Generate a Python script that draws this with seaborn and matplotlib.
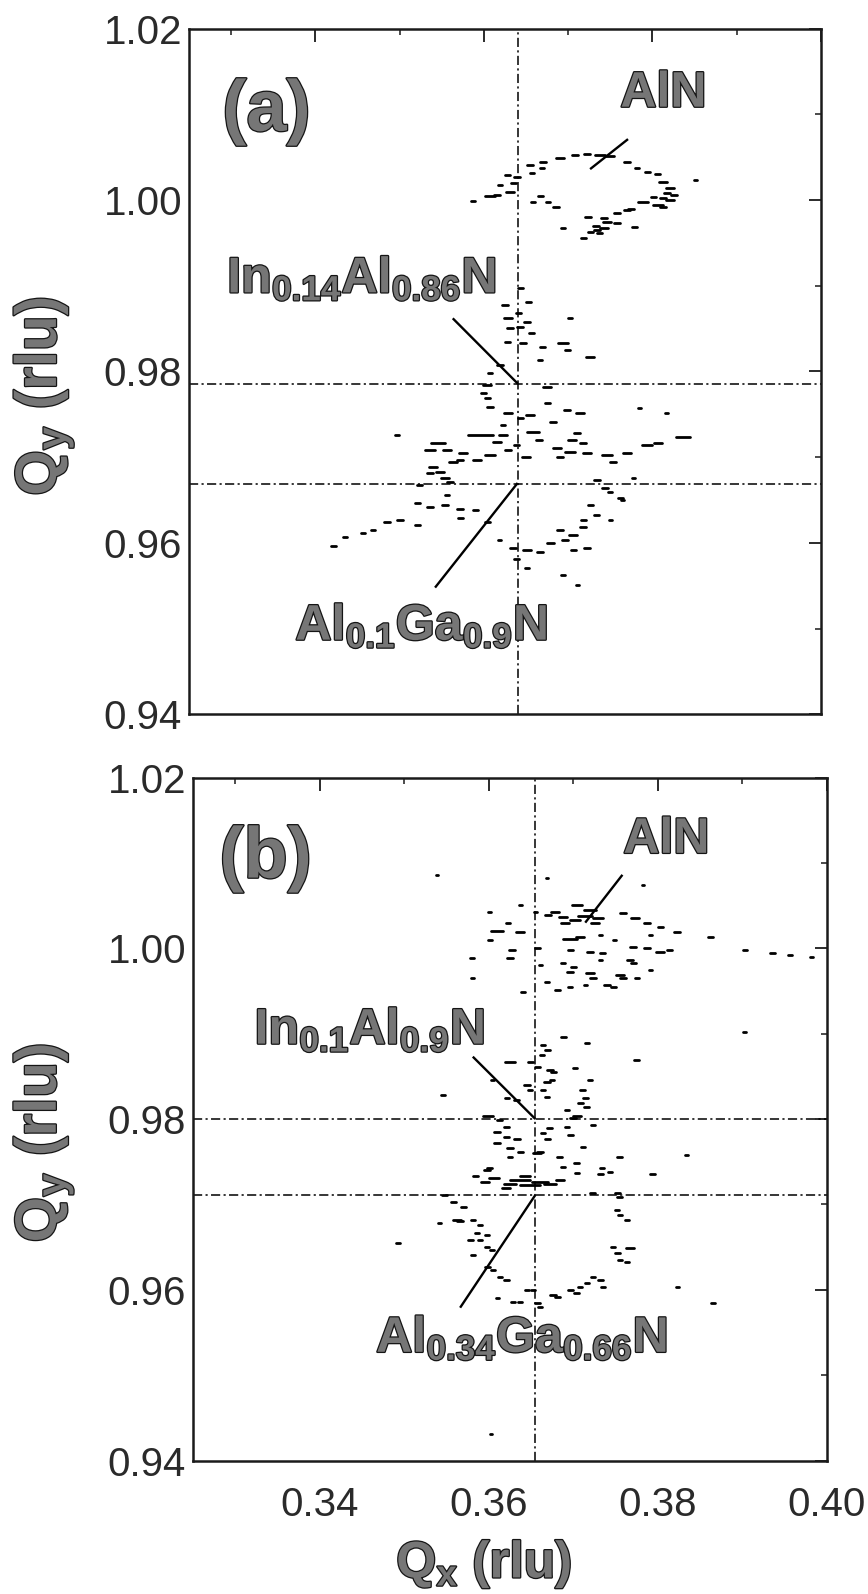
import numpy as np
import pandas as pd
import matplotlib
matplotlib.use("Agg")
import matplotlib.pyplot as plt
import seaborn as sns
from matplotlib import patheffects as pe
from matplotlib.ticker import MultipleLocator, FormatStrFormatter

# ---------------- data ----------------
QX_RANGE = [0.325, 0.40]
QY_RANGE = [0.94, 1.02]
x_ticks = [0.34, 0.36, 0.38, 0.40]
y_ticks = [0.94, 0.96, 0.98, 1.00, 1.02]

# dash length unit (rlu) used for the *_len lists
DASH_UNIT = 1.19e-4

# ---- panel (a): AlN peak ----
a_aln_qx = [0.3655,0.3670,0.3690,0.3708,0.3722,0.3738,0.3750,0.3770,0.3782,0.3794,0.3806,0.3813,0.3821,0.3817,0.3825,0.3813,0.3821,0.3789,0.3806,0.3813,0.3770,0.3758,0.3742,0.3723,0.3746,0.3758,0.3742,0.3734,0.3726,0.3718,0.3779,0.3694,0.3685,0.3667,0.3658,0.3676,0.3607,0.3616,0.3631,0.3635,0.3639,0.3628,0.3619,0.3657,0.3669,0.3851,0.3587,0.3775,0.3801,0.3737,0.3733]
a_aln_qy = [1.0041,1.0044,1.0049,1.0053,1.0054,1.0053,1.0051,1.0044,1.0037,1.0033,1.0030,1.0021,1.0014,1.0008,1.0006,1.0002,1.0000,0.9998,0.9994,0.9992,0.9988,0.9985,0.9979,0.9980,0.9974,0.9973,0.9967,0.9965,0.9963,0.9956,0.9969,0.9967,0.9992,1.0005,0.9998,0.9998,1.0005,1.0006,1.0009,1.0020,1.0027,1.0029,1.0017,1.0031,1.0037,1.0023,0.9999,0.9989,1.0004,0.9961,0.9970]
a_aln_len = [6,6,8,6,6,10,8,6,4,5,5,8,8,6,6,6,8,10,10,6,6,6,6,6,8,6,8,6,5,5,5,4,6,5,4,4,10,6,8,5,6,5,4,4,4,3,4,6,5,5,6]

# ---- panel (a): In0.14Al0.86N region ----
a_mid_qx = [0.3643,0.3653,0.3625,0.3641,0.3628,0.3651,0.3702,0.3631,0.3643,0.3657,0.3628,0.3646,0.3670,0.3694,0.3699,0.3667,0.3726,0.3619,0.3607,0.3604,0.3675,0.3599,0.3604,0.3607,0.3675,0.3699,0.3714,0.3628,0.3655,0.3643,0.3682,0.3623,0.3785,0.3817,0.3596,0.3623,0.3658,0.3711,0.3705,0.3718,0.3836,0.3794,0.3806,0.3497,0.3615,0.3628,0.3650,0.3665]
a_mid_qy = [0.9897,0.9881,0.9878,0.9868,0.9862,0.9858,0.9862,0.9851,0.9852,0.9845,0.9834,0.9833,0.9829,0.9833,0.9825,0.9813,0.9817,0.9808,0.9798,0.9784,0.9782,0.9775,0.9769,0.9759,0.9763,0.9755,0.9752,0.9752,0.9749,0.9746,0.9741,0.9738,0.9758,0.9752,0.9726,0.9726,0.9729,0.9728,0.9720,0.9717,0.9724,0.9714,0.9717,0.9726,0.9718,0.9709,0.9700,0.9720]
a_mid_len = [5,5,5,5,8,6,4,6,6,5,5,6,5,10,5,4,8,6,4,8,8,5,5,6,5,6,8,8,8,5,6,4,3,3,25,8,12,6,8,6,14,10,8,4,8,6,8,6]

# ---- panel (a): Al0.1Ga0.9N region ----
a_low_qx = [0.3545,0.3536,0.3556,0.3575,0.3607,0.3639,0.3687,0.3702,0.3722,0.3746,0.3770,0.3563,0.3592,0.3572,0.3690,0.3753,0.3548,0.3536,0.3539,0.3554,0.3560,0.3524,0.3556,0.3521,0.3536,0.3554,0.3572,0.3590,0.3572,0.3485,0.3500,0.3521,0.3468,0.3457,0.3435,0.3421,0.3604,0.3734,0.3744,0.3762,0.3750,0.3726,0.3734,0.3718,0.3718,0.3690,0.3706,0.3696,0.3679,0.3722,0.3706,0.3635,0.3651,0.3667,0.3639,0.3651,0.3711,0.3694,0.3750,0.3765,0.3777,0.3619]
a_low_qy = [0.9717,0.9708,0.9708,0.9705,0.9703,0.9714,0.9711,0.9706,0.9705,0.9703,0.9705,0.9695,0.9697,0.9697,0.9700,0.9695,0.9683,0.9682,0.9689,0.9676,0.9671,0.9668,0.9656,0.9647,0.9642,0.9644,0.9640,0.9639,0.9629,0.9625,0.9627,0.9621,0.9615,0.9612,0.9607,0.9597,0.9625,0.9674,0.9664,0.9653,0.9660,0.9644,0.9633,0.9627,0.9619,0.9615,0.9609,0.9604,0.9600,0.9594,0.9592,0.9594,0.9592,0.9589,0.9581,0.9571,0.9551,0.9563,0.9627,0.9650,0.9676,0.9604]
a_low_len = [14,10,8,8,10,5,8,10,8,10,8,8,8,6,6,6,8,6,8,8,6,5,4,5,6,6,6,5,5,6,6,5,4,4,4,5,5,6,6,5,4,5,5,5,6,6,8,6,6,6,5,6,8,6,5,4,3,4,3,3,3,3]

# ---- panel (b): AlN peak ----
b_aln_qx = [0.3704,0.3720,0.3714,0.3729,0.3702,0.3726,0.3690,0.3678,0.3670,0.3688,0.3696,0.3708,0.3610,0.3637,0.3627,0.3625,0.3657,0.3759,0.3773,0.3787,0.3803,0.3823,0.3771,0.3787,0.3803,0.3814,0.3767,0.3771,0.3720,0.3723,0.3755,0.3759,0.3696,0.3700,0.3740,0.3747,0.3775,0.3681,0.3696,0.3669,0.3696,0.3720,0.3735,0.3688,0.3862,0.3580,0.3601,0.3623,0.3669,0.3601,0.3782,0.3581,0.3640,0.3539,0.3935,0.3956,0.3982,0.3903,0.3637,0.3655,0.3732,0.3749,0.3791,0.3661,0.3732,0.3714,0.3791]
b_aln_qy = [1.0051,1.0045,1.0038,1.0036,1.0033,1.0030,1.0030,1.0043,1.0039,1.0037,1.0011,1.0013,1.0020,1.0019,0.9998,0.9989,1.0000,1.0041,1.0036,1.0030,1.0025,1.0019,1.0002,1.0000,0.9996,0.9998,0.9986,0.9983,0.9971,0.9965,0.9969,0.9965,0.9972,0.9978,0.9957,0.9955,0.9965,0.9951,0.9955,0.9961,0.9998,0.9996,0.9995,0.9983,1.0013,0.9989,1.0010,1.0030,1.0082,1.0043,1.0074,0.9965,0.9949,1.0086,0.9995,0.9992,0.9990,0.9998,1.0051,1.0043,1.0016,1.0010,1.0016,0.9980,0.9986,0.9957,0.9975]
b_aln_len = [10,12,14,10,10,8,8,8,6,8,14,8,12,8,6,5,5,6,8,6,5,6,6,6,8,5,6,5,8,6,8,6,6,5,6,5,4,5,4,4,5,6,5,4,5,4,4,4,2,3,2,3,4,2,5,4,3,3,3,3,3,3,3,3,3,3,3]

# ---- panel (b): In0.1Al0.9N region ----
b_mid_qx = [0.3688,0.3716,0.3664,0.3669,0.3663,0.3625,0.3649,0.3657,0.3672,0.3676,0.3702,0.3775,0.3720,0.3669,0.3675,0.3645,0.3649,0.3604,0.3711,0.3714,0.3621,0.3633,0.3664,0.3669,0.3708,0.3716,0.3692,0.3700,0.3704,0.3599,0.3613,0.3621,0.3672,0.3692,0.3696,0.3723,0.3610,0.3621,0.3633,0.3664,0.3669,0.3610,0.3625,0.3637,0.3711,0.3657,0.3661,0.3625,0.3684,0.3704,0.3755,0.3734,0.3743,0.3598,0.3601,0.3794,0.3834,0.3546,0.3688,0.3704,0.3902]
b_mid_qy = [0.9896,0.9889,0.9887,0.9881,0.9875,0.9867,0.9867,0.9861,0.9857,0.9855,0.9860,0.9869,0.9846,0.9843,0.9846,0.9840,0.9834,0.9846,0.9834,0.9825,0.9825,0.9822,0.9834,0.9826,0.9819,0.9814,0.9811,0.9801,0.9803,0.9803,0.9799,0.9791,0.9790,0.9791,0.9781,0.9793,0.9785,0.9779,0.9776,0.9784,0.9776,0.9772,0.9766,0.9761,0.9767,0.9760,0.9761,0.9756,0.9756,0.9749,0.9756,0.9743,0.9738,0.9740,0.9743,0.9735,0.9758,0.9828,0.9744,0.9737,0.9902]
b_mid_len = [5,4,4,5,4,10,5,5,6,5,4,5,4,6,4,6,4,3,5,5,4,5,4,4,5,5,4,6,8,10,5,5,5,4,5,4,6,5,6,4,5,6,6,5,4,8,6,4,5,5,5,4,4,6,5,5,3,4,4,4,3]

# ---- panel (b): Al0.34Ga0.66N region ----
b_low_qx = [0.3637,0.3661,0.3649,0.3672,0.3625,0.3606,0.3595,0.3684,0.3643,0.3620,0.3584,0.3723,0.3752,0.3755,0.3732,0.3558,0.3570,0.3562,0.3566,0.3581,0.3589,0.3586,0.3598,0.3578,0.3589,0.3598,0.3604,0.3581,0.3752,0.3755,0.3763,0.3747,0.3752,0.3755,0.3767,0.3763,0.3598,0.3605,0.3613,0.3621,0.3645,0.3652,0.3676,0.3681,0.3696,0.3704,0.3732,0.3735,0.3723,0.3708,0.3716,0.3657,0.3661,0.3629,0.3637,0.3610,0.3823,0.3542,0.3865,0.3603,0.3493,0.3548]
b_low_qy = [0.9729,0.9726,0.9723,0.9724,0.9724,0.9731,0.9726,0.9729,0.9733,0.9719,0.9733,0.9713,0.9713,0.9709,0.9735,0.9703,0.9697,0.9682,0.9680,0.9682,0.9676,0.9667,0.9664,0.9658,0.9658,0.9650,0.9647,0.9641,0.9694,0.9688,0.9682,0.9650,0.9643,0.9635,0.9649,0.9632,0.9627,0.9623,0.9615,0.9612,0.9600,0.9600,0.9594,0.9592,0.9600,0.9596,0.9611,0.9603,0.9615,0.9603,0.9608,0.9585,0.9580,0.9586,0.9586,0.9590,0.9603,0.9678,0.9584,0.9431,0.9655,0.9711]
b_low_len = [20,16,20,12,12,10,8,8,10,8,5,5,5,5,5,5,4,8,6,4,4,4,4,5,4,4,4,4,4,4,4,4,5,4,8,4,5,4,4,5,4,4,6,5,5,5,5,4,4,4,4,5,4,4,4,3,3,3,4,2,4,5]

# reference (dash-dot) lines: layer peak positions
a_qx_line = [0.3640]
a_qy_lines = [0.9785, 0.9669]
b_qx_line = [0.3655]
b_qy_lines = [0.9800, 0.9711]

# labels and their leader lines
a_labels = ["AlN", r"$\mathbf{In_{0.14}Al_{0.86}N}$", r"$\mathbf{Al_{0.1}Ga_{0.9}N}$"]
a_label_qx = [0.3813, 0.3455, 0.3526]
a_label_qy = [1.0124, 0.9892, 0.9487]
a_leader_qx = [[0.3726, 0.3771], [0.3563, 0.3640], [0.3542, 0.3640]]
a_leader_qy = [[1.0036, 1.0071], [0.9862, 0.9786], [0.9548, 0.9670]]

b_labels = ["AlN", r"$\mathbf{In_{0.1}Al_{0.9}N}$", r"$\mathbf{Al_{0.34}Ga_{0.66}N}$"]
b_label_qx = [0.3810, 0.3459, 0.3639]
b_label_qy = [1.0127, 0.9888, 0.9527]
b_leader_qx = [[0.3758, 0.3714], [0.3581, 0.3655], [0.3566, 0.3655]]
b_leader_qy = [[1.0086, 1.0030], [0.9873, 0.9800], [0.9579, 0.9711]]

panel_tags = ["(a)", "(b)"]
tag_qx = [0.3342, 0.3336]
tag_qy = [1.0103, 1.0105]

# ---------------- style ----------------
sns.set_theme(style="white")
plt.rcParams["font.family"] = ["Liberation Sans", "DejaVu Sans"]
plt.rcParams["mathtext.fontset"] = "custom"
plt.rcParams["mathtext.rm"] = "Liberation Sans"
plt.rcParams["mathtext.bf"] = "Liberation Sans:bold"
plt.rcParams["mathtext.it"] = "Liberation Sans:italic"

GREY = "#767676"
OUTLINE = [pe.withStroke(linewidth=1.8, foreground="#151515")]
DASHDOT = (0, (6, 2.2, 1.4, 2.2))


def dash_frame(qx, qy, ln, tag):
    rows = []
    for i, (x, y, l) in enumerate(zip(qx, qy, ln)):
        h = 0.5 * l * DASH_UNIT
        rows.append((f"{tag}{i}", x - h, y))
        rows.append((f"{tag}{i}", x + h, y))
    return pd.DataFrame(rows, columns=["id", "Qx", "Qy"])


fig = plt.figure(figsize=(8.68, 15.94), dpi=100)
ax_a = fig.add_axes([0.21774, 0.55176, 0.72811, 0.43036])
ax_b = fig.add_axes([0.22235, 0.08375, 0.73041, 0.42848])

panels = [
    (ax_a, [(a_aln_qx, a_aln_qy, a_aln_len), (a_mid_qx, a_mid_qy, a_mid_len), (a_low_qx, a_low_qy, a_low_len)],
     a_qx_line, a_qy_lines, a_labels, a_label_qx, a_label_qy, a_leader_qx, a_leader_qy),
    (ax_b, [(b_aln_qx, b_aln_qy, b_aln_len), (b_mid_qx, b_mid_qy, b_mid_len), (b_low_qx, b_low_qy, b_low_len)],
     b_qx_line, b_qy_lines, b_labels, b_label_qx, b_label_qy, b_leader_qx, b_leader_qy),
]

for k, (ax, groups, vl, hl, labs, lqx, lqy, ldx, ldy) in enumerate(panels):
    frames = [dash_frame(qx, qy, ln, f"g{j}_") for j, (qx, qy, ln) in enumerate(groups)]
    df = pd.concat(frames, ignore_index=True)
    sns.lineplot(data=df, x="Qx", y="Qy", units="id", estimator=None, sort=False,
                 color="black", lw=2.0, legend=False, ax=ax)

    for v in vl:
        ax.axvline(v, color="black", lw=1.1, ls=DASHDOT, zorder=1)
    for h in hl:
        ax.axhline(h, color="black", lw=1.1, ls=DASHDOT, zorder=1)

    for xs, ys in zip(ldx, ldy):
        ax.plot(xs, ys, color="black", lw=1.7, solid_capstyle="butt")

    for j, (t, x, y) in enumerate(zip(labs, lqx, lqy)):
        va = "center" if j == 0 else "baseline"
        ax.text(x, y, t, ha="center", va=va, fontsize=36, fontweight="bold",
                color=GREY, path_effects=OUTLINE)

    ax.text(tag_qx[k], tag_qy[k], panel_tags[k], ha="center", va="center", fontsize=52,
            fontweight="bold", color=GREY, path_effects=OUTLINE)

    ax.set_xlim(*QX_RANGE)
    ax.set_ylim(*QY_RANGE)
    ax.set_xticks(x_ticks)
    ax.set_yticks(y_ticks)
    ax.xaxis.set_minor_locator(MultipleLocator(0.01))
    ax.yaxis.set_minor_locator(MultipleLocator(0.01))
    ax.xaxis.set_major_formatter(FormatStrFormatter("%.2f"))
    ax.yaxis.set_major_formatter(FormatStrFormatter("%.2f"))
    ax.tick_params(which="both", direction="in", top=True, right=True, color="#1a1a1a")
    ax.tick_params(which="major", length=9, width=1.3, labelsize=29, labelcolor="#2a2a2a")
    ax.tick_params(which="minor", length=4.5, width=1.1)
    ax.tick_params(axis="y", which="major", pad=5)
    ax.tick_params(axis="x", which="major", pad=18)
    for s in ax.spines.values():
        s.set_linewidth(1.8)
        s.set_color("#1a1a1a")
    ax.set_ylabel(r"$\mathbf{Q_y}$ (rlu)", fontsize=42, fontweight="bold", color=GREY,
                  path_effects=OUTLINE)
    ax.set_xlabel("")

ax_a.tick_params(axis="x", labelbottom=False)
ax_a.yaxis.set_label_coords(-0.180, 0.464)
ax_b.yaxis.set_label_coords(-0.186, 0.465)
ax_b.set_xlabel(r"$\mathbf{Q_x}$ (rlu)", fontsize=37, fontweight="bold", color=GREY,
                path_effects=OUTLINE)
ax_b.xaxis.set_label_coords(0.459, -0.113)

fig.savefig("out.png", dpi=100)
